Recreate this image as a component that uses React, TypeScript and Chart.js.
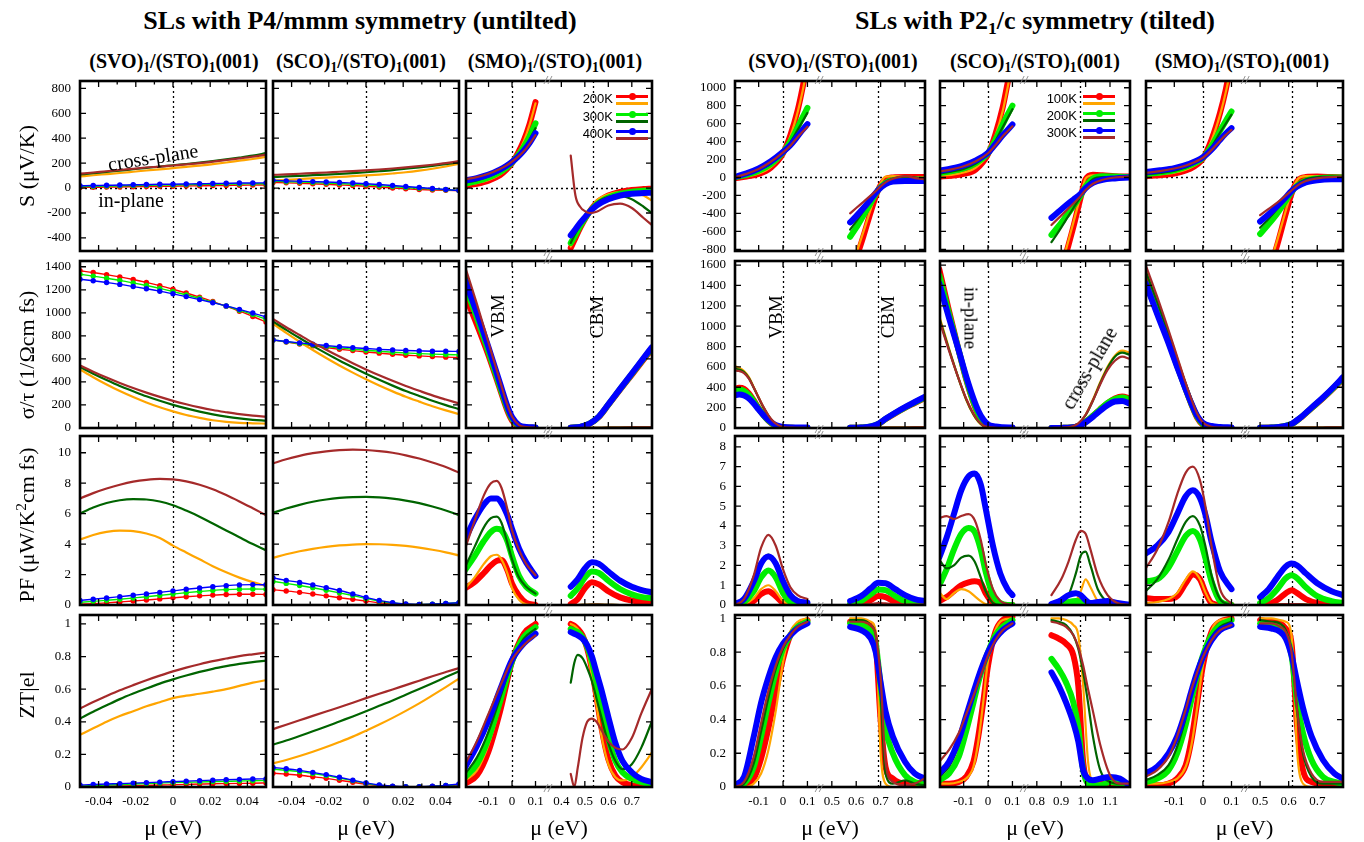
import React, { useEffect, useRef } from 'react';
import { Chart, registerables } from 'chart.js';

Chart.register(...registerables);
Chart.defaults.font.family = "'Liberation Serif', 'Times New Roman', serif";

// ---------------- data ----------------
// series order everywhere: [T1 in-plane, T1 cross-plane, T2 in-plane, T2 cross-plane, T3 in-plane, T3 cross-plane]
const SERIES_COLORS = ['#ff0000', '#ffa500', '#00ee00', '#006400', '#0000ff', '#a52a2a'];
const LEGEND_U = ['200K', '300K', '400K'];
const LEGEND_T = ['100K', '200K', '300K'];

const X_U = [-0.05, -0.0429, -0.0357, -0.0286, -0.0214, -0.0143, -0.0071, 0, 0.0071, 0.0143, 0.0214, 0.0286, 0.0357, 0.0429, 0.05];

// (SVO)1/(STO)1 untilted
const Y_SVO_U_S = [
  [5, 6, 8, 9, 11, 12, 14, 15, 17, 18, 20, 21, 23, 24, 25],
  [93, 103, 112, 121, 131, 141, 150, 160, 170, 180, 192, 205, 219, 233, 250],
  [12, 14, 16, 18, 20, 22, 24, 25, 27, 29, 30, 32, 33, 34, 35],
  [109, 119, 130, 140, 151, 162, 172, 183, 193, 204, 216, 230, 244, 260, 280],
  [18, 20, 22, 24, 26, 28, 30, 31, 33, 35, 36, 38, 40, 41, 42],
  [115, 125, 135, 145, 155, 165, 172, 181, 190, 200, 212, 225, 238, 252, 268],
];
const Y_SVO_U_C = [
  [1365, 1350, 1332, 1312, 1289, 1264, 1236, 1205, 1172, 1136, 1098, 1058, 1014, 968, 920],
  [509, 441, 378, 321, 269, 222, 180, 144, 113, 88, 67, 53, 45, 41, 38],
  [1335, 1319, 1301, 1282, 1260, 1237, 1212, 1185, 1156, 1126, 1093, 1059, 1023, 985, 945],
  [529, 471, 416, 365, 319, 275, 236, 201, 170, 142, 119, 99, 83, 71, 63],
  [1292, 1278, 1263, 1247, 1228, 1209, 1188, 1165, 1141, 1115, 1088, 1060, 1030, 998, 965],
  [543, 489, 438, 391, 347, 307, 270, 236, 206, 179, 156, 137, 120, 107, 98],
];
const Y_SVO_U_P = [
  [0.05, 0.09, 0.14, 0.2, 0.26, 0.33, 0.4, 0.47, 0.54, 0.6, 0.65, 0.69, 0.71, 0.71, 0.69],
  [4.3, 4.6, 4.8, 4.88, 4.85, 4.7, 4.4, 3.9, 3.45, 3.0, 2.55, 2.15, 1.8, 1.5, 1.25],
  [0.18, 0.24, 0.31, 0.38, 0.46, 0.54, 0.63, 0.72, 0.81, 0.89, 0.96, 1.01, 1.04, 1.05, 1.04],
  [6.0, 6.4, 6.7, 6.88, 6.95, 6.93, 6.8, 6.55, 6.2, 5.8, 5.35, 4.9, 4.45, 4.0, 3.6],
  [0.3, 0.38, 0.46, 0.55, 0.64, 0.73, 0.83, 0.93, 1.03, 1.12, 1.2, 1.27, 1.32, 1.34, 1.33],
  [7.0, 7.35, 7.65, 7.9, 8.1, 8.22, 8.28, 8.25, 8.12, 7.9, 7.6, 7.22, 6.8, 6.35, 5.9],
];
const Y_SVO_U_Z = [
  [0.0, 0.002, 0.004, 0.006, 0.008, 0.01, 0.012, 0.014, 0.016, 0.018, 0.02, 0.021, 0.022, 0.023, 0.025],
  [0.32, 0.36, 0.4, 0.435, 0.465, 0.495, 0.52, 0.545, 0.56, 0.572, 0.585, 0.6, 0.62, 0.64, 0.655],
  [0.006, 0.009, 0.012, 0.015, 0.018, 0.021, 0.024, 0.027, 0.029, 0.031, 0.033, 0.035, 0.037, 0.038, 0.04],
  [0.42, 0.462, 0.501, 0.539, 0.573, 0.604, 0.634, 0.66, 0.684, 0.706, 0.725, 0.741, 0.755, 0.766, 0.775],
  [0.012, 0.015, 0.018, 0.021, 0.024, 0.027, 0.03, 0.033, 0.036, 0.039, 0.042, 0.045, 0.047, 0.049, 0.05],
  [0.481, 0.521, 0.558, 0.593, 0.625, 0.655, 0.683, 0.709, 0.732, 0.753, 0.772, 0.788, 0.803, 0.814, 0.824],
];

// (SCO)1/(STO)1 untilted
const Y_SCO_U_S = [
  [45, 42, 38, 34, 30, 25, 20, 14, 8, 1, -5, -11, -15, -18, -20],
  [61, 66, 72, 78, 84, 90, 95, 101, 108, 117, 127, 140, 155, 173, 195],
  [55, 51, 48, 44, 40, 36, 31, 26, 19, 12, 5, -2, -8, -14, -19],
  [88, 93, 98, 103, 108, 113, 120, 127, 135, 144, 155, 166, 178, 192, 208],
  [62, 58, 55, 52, 49, 45, 40, 35, 28, 20, 12, 4, -4, -12, -20],
  [105, 110, 115, 120, 125, 131, 136, 142, 149, 157, 166, 176, 187, 200, 216],
];
const Y_SCO_U_C = [
  [765, 747, 729, 713, 698, 684, 672, 660, 650, 640, 632, 626, 620, 615, 612],
  [906, 826, 749, 677, 608, 543, 481, 423, 369, 318, 271, 229, 189, 153, 121],
  [765, 749, 734, 720, 708, 696, 685, 675, 666, 658, 652, 646, 641, 638, 635],
  [926, 852, 781, 713, 648, 586, 527, 471, 418, 368, 321, 278, 237, 199, 164],
  [765, 751, 739, 727, 716, 706, 698, 690, 683, 678, 673, 670, 667, 666, 665],
  [946, 875, 807, 741, 679, 620, 563, 509, 458, 410, 365, 323, 283, 247, 213],
];
const Y_SCO_U_P = [
  [1.0, 0.92, 0.83, 0.72, 0.6, 0.48, 0.37, 0.26, 0.15, 0.07, 0.03, 0.02, 0.03, 0.05, 0.08],
  [3.1, 3.33, 3.53, 3.69, 3.82, 3.91, 3.97, 4.0, 3.99, 3.95, 3.88, 3.77, 3.63, 3.46, 3.25],
  [1.55, 1.42, 1.28, 1.13, 0.97, 0.8, 0.62, 0.43, 0.26, 0.13, 0.06, 0.03, 0.05, 0.1, 0.15],
  [6.05, 6.34, 6.58, 6.78, 6.93, 7.03, 7.09, 7.1, 7.07, 6.99, 6.86, 6.69, 6.47, 6.21, 5.9],
  [1.78, 1.62, 1.48, 1.32, 1.14, 0.95, 0.73, 0.5, 0.3, 0.15, 0.07, 0.04, 0.05, 0.1, 0.15],
  [9.3, 9.57, 9.79, 9.97, 10.09, 10.17, 10.2, 10.18, 10.11, 10.0, 9.83, 9.62, 9.36, 9.06, 8.7],
];
const Y_SCO_U_Z = [
  [0.085, 0.079, 0.072, 0.063, 0.053, 0.041, 0.029, 0.017, 0.008, 0.003, 0.001, 0.001, 0.003, 0.007, 0.013],
  [0.145, 0.166, 0.19, 0.216, 0.245, 0.276, 0.309, 0.345, 0.383, 0.424, 0.467, 0.513, 0.562, 0.613, 0.665],
  [0.11, 0.103, 0.094, 0.083, 0.07, 0.055, 0.039, 0.023, 0.011, 0.004, 0.002, 0.002, 0.004, 0.009, 0.016],
  [0.26, 0.285, 0.313, 0.342, 0.371, 0.402, 0.433, 0.465, 0.498, 0.531, 0.566, 0.601, 0.637, 0.674, 0.71],
  [0.12, 0.112, 0.102, 0.09, 0.076, 0.06, 0.042, 0.025, 0.012, 0.005, 0.002, 0.002, 0.005, 0.01, 0.018],
  [0.355, 0.382, 0.409, 0.436, 0.463, 0.489, 0.517, 0.545, 0.572, 0.598, 0.625, 0.652, 0.679, 0.705, 0.73],
];

// (SMO)1/(STO)1 untilted (broken axis)
const X_SMO_U_S_L = [-0.2, -0.15, -0.1, -0.05, -0.025, 0, 0.025, 0.05, 0.075, 0.1];
const Y_SMO_U_S_L = [
  [20, 35, 60, 105, 145, 200, 280, 380, 515, 690],
  [25, 40, 65, 110, 148, 200, 278, 375, 510, 680],
  [35, 55, 85, 130, 162, 205, 260, 330, 415, 520],
  [45, 62, 92, 135, 165, 205, 255, 315, 390, 480],
  [60, 80, 108, 150, 177, 210, 250, 300, 362, 440],
  [70, 88, 115, 155, 180, 212, 250, 295, 355, 425],
];
const X_SMO_U_S_R = [0.44, 0.46, 0.48, 0.5, 0.52, 0.55, 0.6, 0.65, 0.7, 0.75, 0.785];
const Y_SMO_U_S_R = [
  [-480, -400, -320, -250, -190, -120, -60, -30, -15, -8, -5],
  [-470, -390, -310, -245, -180, -100, -50, -32, -35, -60, -100],
  [-440, -375, -305, -245, -192, -130, -75, -45, -30, -22, -20],
  [-440, -365, -300, -245, -190, -120, -70, -60, -90, -150, -200],
  [-380, -330, -280, -235, -192, -140, -90, -60, -45, -40, -38],
  [260, -60, -150, -185, -200, -190, -140, -125, -160, -240, -295],
];
const X_SMO_U_C_L = [-0.2, -0.15, -0.1, -0.05, -0.02, 0, 0.03, 0.06, 0.1];
const Y_SMO_U_C_L = [
  [1150, 900, 630, 330, 150, 65, 12, 3, 1],
  [1330, 1010, 680, 350, 160, 70, 12, 3, 1],
  [1230, 960, 660, 350, 170, 80, 18, 5, 2],
  [1360, 1040, 700, 370, 180, 85, 18, 5, 2],
  [1280, 1000, 700, 380, 190, 95, 25, 10, 5],
  [1400, 1080, 740, 400, 200, 100, 25, 8, 3],
];
const X_SMO_U_C_R = [0.44, 0.48, 0.52, 0.56, 0.6, 0.65, 0.7, 0.75, 0.785];
const Y_SMO_U_C_R = [
  [2, 9, 36, 97, 200, 332, 462, 593, 685],
  [0, 0, 1, 2, 3, 4, 5, 6, 7],
  [2, 10, 37, 99, 203, 337, 469, 601, 694],
  [0, 0, 1, 2, 3, 4, 5, 6, 7],
  [2, 10, 38, 100, 205, 340, 473, 607, 700],
  [0, 0, 1, 2, 3, 4, 5, 6, 7],
];
const X_SMO_U_P_L = [-0.2, -0.16, -0.12, -0.09, -0.065, -0.045, -0.02, 0, 0.03, 0.06, 0.1];
const Y_SMO_U_P_L = [
  [1.1, 1.5, 2.1, 2.6, 2.9, 2.95, 2.3, 1.4, 0.6, 0.15, 0.0],
  [1.1, 1.8, 2.7, 3.2, 3.3, 3.0, 2.1, 1.1, 0.35, 0.05, 0.0],
  [2.3, 3.2, 4.2, 4.8, 5.0, 4.9, 4.2, 3.2, 1.9, 1.2, 0.75],
  [2.5, 3.8, 5.1, 5.7, 5.8, 5.4, 4.1, 3.0, 1.8, 1.2, 0.75],
  [4.3, 5.6, 6.6, 7.0, 7.0, 6.7, 5.9, 5.0, 3.7, 2.8, 1.9],
  [3.7, 5.5, 7.2, 8.0, 8.15, 7.7, 6.3, 4.9, 3.6, 2.7, 1.95],
];
const X_SMO_U_P_R = [0.44, 0.47, 0.5, 0.53, 0.56, 0.6, 0.65, 0.7, 0.75, 0.785];
const Y_SMO_U_P_R = [
  [0.05, 0.4, 1.1, 1.5, 1.35, 0.9, 0.5, 0.3, 0.22, 0.2],
  [0, 0, 0.01, 0.02, 0.02, 0.01, 0, 0, 0, 0],
  [0.6, 1.1, 1.8, 2.2, 2.1, 1.6, 1.05, 0.7, 0.5, 0.45],
  [0, 0, 0.01, 0.02, 0.02, 0.01, 0, 0, 0, 0],
  [1.2, 1.7, 2.4, 2.8, 2.7, 2.2, 1.6, 1.2, 0.95, 0.83],
  [0, 0, 0.01, 0.02, 0.02, 0.01, 0, 0, 0, 0],
];
const X_SMO_U_Z_L = [-0.2, -0.15, -0.1, -0.05, 0, 0.05, 0.1];
const Y_SMO_U_Z_L = [
  [0.02, 0.07, 0.22, 0.47, 0.77, 0.94, 1.0],
  [0.04, 0.1, 0.26, 0.5, 0.77, 0.93, 0.99],
  [0.06, 0.14, 0.3, 0.53, 0.77, 0.92, 0.98],
  [0.08, 0.18, 0.34, 0.55, 0.77, 0.91, 0.97],
  [0.12, 0.25, 0.41, 0.6, 0.78, 0.88, 0.94],
  [0.14, 0.28, 0.45, 0.62, 0.78, 0.87, 0.93],
];
const X_SMO_U_Z_R = [0.44, 0.455, 0.47, 0.49, 0.51, 0.53, 0.55, 0.57, 0.6, 0.63, 0.66, 0.7, 0.74, 0.785];
const Y_SMO_U_Z_R = [
  [1.0, 0.99, 0.97, 0.93, 0.85, 0.72, 0.55, 0.37, 0.17, 0.07, 0.03, 0.01, 0.005, 0.0],
  [1.0, 0.99, 0.97, 0.92, 0.83, 0.68, 0.5, 0.32, 0.14, 0.06, 0.04, 0.06, 0.12, 0.21],
  [0.97, 0.96, 0.95, 0.92, 0.86, 0.77, 0.64, 0.5, 0.3, 0.16, 0.09, 0.05, 0.03, 0.02],
  [0.64, 0.76, 0.81, 0.79, 0.73, 0.65, 0.54, 0.43, 0.27, 0.16, 0.11, 0.14, 0.24, 0.4],
  [0.95, 0.94, 0.93, 0.91, 0.87, 0.8, 0.7, 0.6, 0.43, 0.27, 0.16, 0.09, 0.05, 0.03],
  [0.08, 0.0, 0.12, 0.3, 0.4, 0.42, 0.4, 0.35, 0.28, 0.24, 0.23, 0.3, 0.45, 0.6],
];

// (SVO)1/(STO)1 tilted
const X_SVO_T_S_L = [-0.2, -0.15, -0.1, -0.05, 0, 0.03, 0.06, 0.08, 0.1];
const Y_SVO_T_S_L = [
  [-10, 10, 40, 110, 270, 470, 750, 1000, 1300],
  [-5, 12, 45, 115, 270, 460, 730, 960, 1250],
  [0, 30, 75, 150, 280, 400, 560, 670, 775],
  [0, 32, 80, 155, 280, 390, 530, 625, 720],
  [5, 45, 100, 180, 285, 360, 460, 530, 595],
  [0, 40, 95, 175, 280, 355, 450, 510, 565],
];
const X_SVO_T_S_R = [0.575, 0.6, 0.63, 0.66, 0.69, 0.72, 0.75, 0.8, 0.85, 0.88];
const Y_SVO_T_S_R = [
  [-1100, -900, -650, -380, -140, -20, 0, 5, 5, 5],
  [-1050, -850, -600, -350, -120, 10, 15, 10, 5, 5],
  [-660, -560, -420, -280, -140, -60, -30, -20, -25, -25],
  [-580, -490, -370, -250, -135, -50, -15, 10, 0, -10],
  [-500, -430, -340, -240, -140, -75, -45, -38, -40, -40],
  [-400, -340, -270, -200, -125, -55, -15, 15, -10, -20],
];
const X_SVO_T_C_L = [-0.2, -0.18, -0.16, -0.14, -0.12, -0.1, -0.08, -0.06, -0.04, -0.02, 0, 0.05, 0.1];
const Y_SVO_T_C_L = [
  [380, 395, 385, 340, 270, 195, 125, 70, 32, 12, 4, 1, 0],
  [610, 590, 560, 500, 400, 300, 200, 120, 60, 25, 8, 1, 0],
  [365, 375, 365, 325, 260, 190, 125, 72, 35, 14, 5, 1, 0],
  [585, 575, 550, 490, 395, 295, 200, 120, 60, 25, 8, 1, 0],
  [320, 330, 320, 290, 240, 180, 125, 78, 42, 20, 10, 5, 4],
  [565, 560, 540, 485, 395, 300, 205, 125, 65, 28, 10, 2, 0],
];
const X_SVO_T_C_R = [0.575, 0.62, 0.66, 0.69, 0.72, 0.76, 0.8, 0.84, 0.88];
const Y_SVO_T_C_R = [
  [2, 5, 14, 38, 86, 144, 197, 245, 293],
  [0, 0, 1, 2, 3, 4, 5, 6, 7],
  [2, 5, 15, 39, 88, 147, 201, 250, 299],
  [0, 0, 1, 2, 3, 4, 5, 6, 7],
  [2, 5, 15, 40, 90, 150, 205, 255, 305],
  [0, 0, 1, 2, 3, 4, 5, 6, 7],
];
const X_SVO_T_P_L = [-0.2, -0.16, -0.12, -0.09, -0.06, -0.03, 0, 0.03, 0.06, 0.1];
const Y_SVO_T_P_L = [
  [0, 0.02, 0.2, 0.55, 0.7, 0.45, 0.1, 0.01, 0, 0],
  [0, 0.05, 0.35, 0.8, 1.0, 0.7, 0.2, 0.03, 0, 0],
  [0, 0.15, 0.7, 1.4, 1.75, 1.4, 0.6, 0.15, 0.05, 0.02],
  [0, 0.2, 1.1, 2.1, 2.55, 2.1, 1.1, 0.4, 0.15, 0.05],
  [0.05, 0.3, 1.2, 2.1, 2.45, 2.1, 1.2, 0.5, 0.2, 0.12],
  [0, 0.3, 1.5, 2.9, 3.55, 3.0, 1.8, 0.9, 0.5, 0.3],
];
const X_SVO_T_P_R = [0.575, 0.62, 0.66, 0.69, 0.72, 0.76, 0.8, 0.84, 0.88];
const Y_SVO_T_P_R = [
  [0, 0.05, 0.25, 0.45, 0.4, 0.15, 0.05, 0.02, 0],
  [0, 0, 0.02, 0.04, 0.03, 0.01, 0, 0, 0],
  [0.05, 0.2, 0.55, 0.78, 0.75, 0.45, 0.2, 0.1, 0.05],
  [0, 0, 0.03, 0.06, 0.05, 0.02, 0, 0, 0],
  [0.2, 0.45, 0.85, 1.12, 1.1, 0.8, 0.5, 0.3, 0.2],
  [0, 0.01, 0.05, 0.1, 0.08, 0.04, 0.02, 0.02, 0.02],
];
const X_SVO_T_Z_L = [-0.2, -0.16, -0.12, -0.09, -0.06, -0.03, 0, 0.03, 0.06, 0.1];
const Y_SVO_T_Z_L = [
  [0.0, 0.0, 0.05, 0.17, 0.35, 0.56, 0.76, 0.9, 0.96, 0.99],
  [0.0, 0.0, 0.02, 0.08, 0.22, 0.45, 0.74, 0.92, 0.98, 1.0],
  [0.0, 0.02, 0.12, 0.3, 0.5, 0.68, 0.82, 0.9, 0.95, 0.98],
  [0.0, 0.02, 0.14, 0.33, 0.53, 0.7, 0.82, 0.9, 0.95, 0.98],
  [0.01, 0.06, 0.3, 0.5, 0.65, 0.77, 0.85, 0.9, 0.94, 0.97],
  [0.0, 0.03, 0.18, 0.38, 0.57, 0.72, 0.83, 0.9, 0.95, 0.98],
];
const X_SVO_T_Z_R = [0.575, 0.62, 0.66, 0.68, 0.7, 0.72, 0.75, 0.8, 0.84, 0.88];
const Y_SVO_T_Z_R = [
  [0.98, 0.98, 0.95, 0.85, 0.4, 0.12, 0.05, 0.02, 0.02, 0.02],
  [1.0, 1.0, 0.98, 0.92, 0.2, 0.02, 0, 0, 0, 0],
  [0.97, 0.96, 0.92, 0.85, 0.6, 0.35, 0.2, 0.07, 0.03, 0.02],
  [0.99, 0.99, 0.96, 0.9, 0.55, 0.08, 0.02, 0.04, 0.02, 0.01],
  [0.95, 0.93, 0.88, 0.8, 0.62, 0.45, 0.3, 0.15, 0.08, 0.05],
  [0.98, 0.98, 0.96, 0.9, 0.65, 0.15, 0.03, 0.01, 0.02, 0.05],
];

// (SCO)1/(STO)1 tilted
const X_SCO_T_S_L = [-0.2, -0.15, -0.1, -0.05, 0, 0.03, 0.06, 0.08, 0.1];
const Y_SCO_T_S_L = [
  [10, 20, 40, 90, 260, 480, 780, 1050, 1350],
  [20, 30, 55, 110, 260, 460, 740, 1000, 1300],
  [50, 70, 100, 160, 270, 420, 590, 700, 800],
  [45, 65, 95, 155, 270, 405, 560, 660, 760],
  [75, 100, 135, 190, 275, 370, 470, 530, 590],
  [65, 90, 125, 180, 270, 360, 460, 515, 570],
];
const X_SCO_T_S_R = [0.86, 0.89, 0.92, 0.95, 0.98, 1.0, 1.03, 1.07, 1.12, 1.18];
const Y_SCO_T_S_R = [
  [-1400, -1150, -850, -550, -220, -20, 30, 25, 15, 10],
  [-1350, -1100, -800, -500, -200, -10, 25, 20, 10, 5],
  [-640, -540, -430, -320, -200, -100, -10, 15, 10, 5],
  [-720, -600, -470, -340, -210, -110, -20, 5, 5, 0],
  [-450, -380, -310, -245, -180, -120, -60, -25, -10, 0],
  [-530, -450, -370, -290, -205, -140, -70, -25, 0, 10],
];
const X_SCO_T_C_L = [-0.2, -0.16, -0.12, -0.09, -0.06, -0.04, -0.02, 0, 0.03, 0.06, 0.1];
const Y_SCO_T_C_L = [
  [1560, 1150, 760, 480, 250, 130, 55, 15, 3, 0, 0],
  [1100, 780, 480, 280, 130, 60, 20, 5, 1, 0, 0],
  [1500, 1120, 760, 490, 260, 140, 60, 20, 5, 1, 0],
  [1080, 770, 480, 285, 135, 65, 22, 6, 1, 0, 0],
  [1420, 1080, 760, 510, 290, 170, 85, 35, 15, 8, 5],
  [1060, 760, 480, 290, 140, 70, 25, 8, 2, 0, 0],
];
const X_SCO_T_C_R = [0.86, 0.9, 0.94, 0.97, 1.0, 1.03, 1.06, 1.09, 1.12, 1.15, 1.18];
const Y_SCO_T_C_R = [
  [0, 1, 5, 20, 60, 120, 185, 245, 290, 310, 290],
  [0, 2, 10, 40, 130, 280, 450, 600, 710, 760, 740],
  [0, 1, 5, 20, 60, 120, 185, 245, 285, 300, 280],
  [0, 2, 10, 40, 125, 270, 440, 590, 700, 740, 720],
  [0, 1, 5, 20, 55, 110, 170, 225, 260, 265, 240],
  [0, 2, 12, 45, 130, 270, 430, 570, 660, 700, 680],
];
const X_SCO_T_P_L = [-0.2, -0.17, -0.14, -0.11, -0.08, -0.055, -0.03, -0.01, 0.02, 0.05, 0.08, 0.1];
const Y_SCO_T_P_L = [
  [0.2, 0.4, 0.7, 1.0, 1.15, 1.2, 1.1, 0.6, 0.1, 0.0, 0.0, 0.0],
  [0.65, 0.3, 0.6, 0.8, 0.7, 0.45, 0.2, 0.05, 0.0, 0.0, 0.0, 0.0],
  [1.0, 1.8, 2.8, 3.6, 3.9, 3.7, 2.8, 1.7, 0.5, 0.1, 0.0, 0.0],
  [2.3, 1.85, 2.0, 2.4, 2.5, 2.2, 1.4, 0.7, 0.1, 0.0, 0.0, 0.0],
  [2.4, 3.4, 4.6, 5.8, 6.5, 6.65, 6.1, 4.9, 3.0, 1.6, 0.8, 0.5],
  [4.4, 4.5, 4.35, 4.5, 4.6, 4.3, 3.3, 2.1, 0.8, 0.2, 0.05, 0.0],
];
const X_SCO_T_P_R = [0.86, 0.9, 0.93, 0.96, 0.98, 1.0, 1.02, 1.05, 1.09, 1.13, 1.18];
const Y_SCO_T_P_R = [
  [0.0, 0.0, 0.05, 0.15, 0.2, 0.05, 0.0, 0.0, 0.0, 0.0, 0.0],
  [0.0, 0.0, 0.05, 0.2, 0.7, 1.3, 0.9, 0.2, 0.02, 0.0, 0.0],
  [0.0, 0.05, 0.15, 0.2, 0.15, 0.05, 0.02, 0.05, 0.08, 0.05, 0.0],
  [0.0, 0.1, 0.5, 1.6, 2.5, 2.7, 2.0, 0.8, 0.15, 0.02, 0.0],
  [0.05, 0.25, 0.5, 0.6, 0.5, 0.25, 0.1, 0.15, 0.2, 0.1, 0.02],
  [0.5, 1.3, 2.2, 3.3, 3.75, 3.6, 2.8, 1.5, 0.5, 0.1, 0.0],
];
const X_SCO_T_Z_L = [-0.2, -0.16, -0.12, -0.09, -0.06, -0.04, -0.02, 0, 0.03, 0.06, 0.1];
const Y_SCO_T_Z_L = [
  [0.02, 0.02, 0.03, 0.06, 0.15, 0.3, 0.5, 0.72, 0.92, 0.99, 1.01],
  [0.02, 0.02, 0.03, 0.05, 0.12, 0.27, 0.5, 0.75, 0.93, 0.99, 1.0],
  [0.04, 0.08, 0.18, 0.33, 0.5, 0.62, 0.72, 0.8, 0.9, 0.95, 0.99],
  [0.06, 0.12, 0.25, 0.4, 0.55, 0.65, 0.73, 0.8, 0.89, 0.94, 0.98],
  [0.08, 0.15, 0.28, 0.42, 0.56, 0.65, 0.73, 0.8, 0.88, 0.93, 0.97],
  [0.15, 0.22, 0.32, 0.43, 0.54, 0.62, 0.7, 0.78, 0.87, 0.93, 0.97],
];
const X_SCO_T_Z_R = [0.86, 0.89, 0.92, 0.95, 0.97, 0.99, 1.01, 1.03, 1.06, 1.1, 1.14, 1.18];
const Y_SCO_T_Z_R = [
  [0.9, 0.88, 0.85, 0.78, 0.6, 0.15, 0.03, 0.02, 0.02, 0.02, 0.02, 0.02],
  [1.0, 1.0, 0.99, 0.96, 0.9, 0.6, 0.15, 0.03, 0.02, 0.02, 0.02, 0.02],
  [0.76, 0.7, 0.62, 0.5, 0.35, 0.1, 0.02, 0.01, 0.01, 0.03, 0.02, 0.0],
  [0.99, 0.98, 0.96, 0.9, 0.82, 0.68, 0.5, 0.3, 0.1, 0.03, 0.02, 0.02],
  [0.68, 0.6, 0.5, 0.38, 0.27, 0.1, 0.05, 0.04, 0.05, 0.06, 0.05, 0.01],
  [0.98, 0.97, 0.95, 0.9, 0.83, 0.72, 0.58, 0.45, 0.25, 0.07, 0.02, 0.02],
];

// (SMO)1/(STO)1 tilted
const X_SMO_T_S_L = [-0.2, -0.15, -0.1, -0.05, 0, 0.03, 0.06, 0.08, 0.1];
const Y_SMO_T_S_L = [
  [15, 25, 45, 90, 210, 420, 720, 980, 1300],
  [25, 35, 55, 100, 210, 410, 700, 950, 1250],
  [40, 55, 80, 130, 220, 350, 520, 630, 735],
  [35, 50, 75, 125, 220, 340, 500, 600, 700],
  [60, 80, 105, 150, 225, 310, 420, 490, 550],
  [50, 70, 100, 145, 220, 305, 410, 475, 530],
];
const X_SMO_T_S_R = [0.5, 0.53, 0.56, 0.59, 0.61, 0.63, 0.66, 0.7, 0.75, 0.79];
const Y_SMO_T_S_R = [
  [-1300, -1050, -750, -400, -180, -40, 5, 10, 5, 0],
  [-1250, -1000, -700, -370, -160, -25, 15, 15, 10, 5],
  [-630, -520, -400, -260, -160, -90, -35, -10, 0, 0],
  [-560, -460, -350, -230, -150, -75, -20, 5, 10, 5],
  [-490, -410, -320, -220, -150, -100, -55, -30, -20, -20],
  [-420, -350, -280, -200, -145, -90, -40, -10, 5, 10],
];
const X_SMO_T_C_L = [-0.2, -0.16, -0.12, -0.09, -0.06, -0.04, -0.02, 0, 0.03, 0.06, 0.1];
const Y_SMO_T_C_L = [
  [1500, 1190, 870, 620, 380, 230, 100, 30, 5, 1, 0],
  [1560, 1260, 940, 690, 430, 270, 130, 50, 10, 2, 0],
  [1420, 1140, 850, 610, 380, 235, 110, 38, 8, 2, 0],
  [1540, 1240, 920, 670, 420, 260, 125, 48, 10, 2, 0],
  [1420, 1120, 830, 600, 380, 240, 120, 50, 20, 10, 6],
  [1600, 1290, 960, 700, 440, 280, 140, 55, 12, 3, 1],
];
const X_SMO_T_C_R = [0.5, 0.54, 0.58, 0.61, 0.64, 0.68, 0.72, 0.76, 0.79];
const Y_SMO_T_C_R = [
  [2, 5, 14, 38, 96, 194, 291, 398, 485],
  [0, 0, 1, 2, 3, 4, 5, 6, 7],
  [2, 5, 15, 39, 98, 197, 296, 404, 493],
  [0, 0, 1, 2, 3, 4, 5, 6, 7],
  [2, 5, 15, 40, 100, 200, 300, 410, 500],
  [0, 0, 1, 2, 3, 4, 5, 6, 7],
];
const X_SMO_T_P_L = [-0.2, -0.16, -0.12, -0.09, -0.06, -0.035, -0.01, 0.01, 0.03, 0.06, 0.1];
const Y_SMO_T_P_L = [
  [0.35, 0.3, 0.3, 0.45, 1.1, 1.55, 1.3, 0.6, 0.1, 0.0, 0.0],
  [0.1, 0.15, 0.3, 0.6, 1.3, 1.7, 1.3, 0.6, 0.1, 0.0, 0.0],
  [1.2, 1.3, 1.9, 2.7, 3.5, 3.75, 3.3, 2.3, 1.2, 0.2, 0.0],
  [0.7, 1.3, 2.3, 3.3, 4.2, 4.5, 4.0, 2.9, 1.5, 0.3, 0.0],
  [2.6, 3.0, 3.7, 4.6, 5.5, 5.8, 5.4, 4.5, 3.2, 1.7, 0.8],
  [1.85, 2.8, 4.2, 5.6, 6.7, 7.0, 6.3, 4.9, 3.0, 0.8, 0.05],
];
const X_SMO_T_P_R = [0.5, 0.53, 0.56, 0.59, 0.61, 0.63, 0.66, 0.7, 0.75, 0.79];
const Y_SMO_T_P_R = [
  [0.0, 0.05, 0.25, 0.6, 0.75, 0.6, 0.3, 0.1, 0.03, 0.0],
  [0, 0, 0.02, 0.04, 0.05, 0.04, 0.02, 0, 0, 0],
  [0.1, 0.35, 0.8, 1.35, 1.5, 1.35, 0.9, 0.45, 0.2, 0.1],
  [0, 0, 0.02, 0.04, 0.05, 0.04, 0.02, 0, 0, 0],
  [0.4, 0.8, 1.4, 1.95, 2.1, 2.0, 1.6, 1.1, 0.7, 0.5],
  [0, 0, 0.02, 0.04, 0.05, 0.04, 0.02, 0, 0, 0],
];
const X_SMO_T_Z_L = [-0.2, -0.16, -0.12, -0.09, -0.06, -0.04, -0.02, 0, 0.03, 0.06, 0.1];
const Y_SMO_T_Z_L = [
  [0.01, 0.01, 0.02, 0.05, 0.13, 0.28, 0.5, 0.72, 0.92, 0.98, 1.0],
  [0.02, 0.02, 0.03, 0.05, 0.12, 0.25, 0.47, 0.72, 0.93, 0.99, 1.0],
  [0.03, 0.05, 0.1, 0.2, 0.37, 0.52, 0.66, 0.78, 0.9, 0.96, 0.99],
  [0.04, 0.07, 0.13, 0.24, 0.41, 0.55, 0.67, 0.78, 0.89, 0.95, 0.98],
  [0.08, 0.12, 0.2, 0.3, 0.45, 0.57, 0.68, 0.77, 0.87, 0.93, 0.96],
  [0.06, 0.1, 0.18, 0.3, 0.46, 0.58, 0.68, 0.77, 0.87, 0.93, 0.96],
];
const X_SMO_T_Z_R = [0.5, 0.54, 0.57, 0.59, 0.61, 0.63, 0.65, 0.68, 0.72, 0.76, 0.79];
const Y_SMO_T_Z_R = [
  [0.99, 0.98, 0.97, 0.94, 0.85, 0.35, 0.1, 0.03, 0.02, 0.02, 0.02],
  [1.0, 1.0, 0.99, 0.98, 0.9, 0.2, 0.02, 0.0, 0.0, 0.0, 0.0],
  [0.97, 0.96, 0.94, 0.9, 0.78, 0.5, 0.32, 0.16, 0.06, 0.03, 0.02],
  [0.99, 0.98, 0.97, 0.93, 0.8, 0.45, 0.2, 0.06, 0.02, 0.02, 0.02],
  [0.95, 0.94, 0.92, 0.88, 0.78, 0.62, 0.47, 0.3, 0.16, 0.08, 0.05],
  [0.97, 0.97, 0.95, 0.92, 0.8, 0.45, 0.22, 0.08, 0.03, 0.03, 0.03],
];

// ---------------- axes ----------------
const X_LABELS = [
  ['-0.04', '-0.02', '0', '0.02', '0.04'],
  ['-0.04', '-0.02', '0', '0.02', '0.04'],
  ['-0.1', '0', '0.1', '0.4', '0.5', '0.6', '0.7'],
  ['-0.1', '0', '0.1', '0.5', '0.6', '0.7', '0.8'],
  ['-0.1', '0', '0.1', '0.8', '0.9', '1.0', '1.1'],
  ['-0.1', '0', '0.1', '0.5', '0.6', '0.7'],
];
const X_MINOR = [[-0.03, -0.01, 0.01, 0.03], [-0.03, -0.01, 0.01, 0.03], [], [], [], []];
const X_MIN = [-0.05, -0.05, -0.196, -0.197, -0.197, -0.199];
const X_MAX = [0.05, 0.05, 0.596, 0.582, 0.582, 0.49];
const X_OFFSET = [0, 0, 0.19, 0.3, 0.6, 0.3];
const X_BREAK = [null, null, 0.153, 0.148, 0.148, 0.148];
const CBM = [null, null, 0.534, 0.69, 0.975, 0.61];

const Y_LABELS_U = [
  ['-400', '-200', '0', '200', '400', '600', '800'],
  ['0', '200', '400', '600', '800', '1000', '1200', '1400'],
  ['0', '2', '4', '6', '8', '10'],
  ['0', '0.2', '0.4', '0.6', '0.8', '1'],
];
const Y_LABELS_T = [
  ['-800', '-600', '-400', '-200', '0', '200', '400', '600', '800', '1000'],
  ['0', '200', '400', '600', '800', '1000', '1200', '1400', '1600'],
  ['0', '1', '2', '3', '4', '5', '6', '7', '8'],
  ['0', '0.2', '0.4', '0.6', '0.8', '1'],
];
const Y_MIN_U = [-505, 0, 0, 0];
const Y_MAX_U = [859, 1450, 11.1, 1.055];
const Y_MIN_T = [-819, 0, 0, 0];
const Y_MAX_T = [1075, 1640, 8.55, 1.02];

// ---------------- layout ----------------
const COL_L = [80, 273, 466, 735, 940, 1146];
const COL_R = [266, 459, 652, 925, 1130, 1343];
const ROW_T = [81, 261, 436, 615];
const ROW_B = [251, 428, 605, 787];
const PAD_L = 60, PAD_R = 6, PAD_T = 6, PAD_B = 30;

const seg1 = (x, y) => [{ x, y }];
const seg2 = (xl, yl, xr, yr) => [{ x: xl, y: yl }, { x: xr, y: yr }];

const PANELS = [
  { col: 0, row: 0, segs: seg1(X_U, Y_SVO_U_S) },
  { col: 0, row: 1, segs: seg1(X_U, Y_SVO_U_C) },
  { col: 0, row: 2, segs: seg1(X_U, Y_SVO_U_P) },
  { col: 0, row: 3, segs: seg1(X_U, Y_SVO_U_Z) },
  { col: 1, row: 0, segs: seg1(X_U, Y_SCO_U_S) },
  { col: 1, row: 1, segs: seg1(X_U, Y_SCO_U_C) },
  { col: 1, row: 2, segs: seg1(X_U, Y_SCO_U_P) },
  { col: 1, row: 3, segs: seg1(X_U, Y_SCO_U_Z) },
  { col: 2, row: 0, segs: seg2(X_SMO_U_S_L, Y_SMO_U_S_L, X_SMO_U_S_R, Y_SMO_U_S_R) },
  { col: 2, row: 1, segs: seg2(X_SMO_U_C_L, Y_SMO_U_C_L, X_SMO_U_C_R, Y_SMO_U_C_R) },
  { col: 2, row: 2, segs: seg2(X_SMO_U_P_L, Y_SMO_U_P_L, X_SMO_U_P_R, Y_SMO_U_P_R) },
  { col: 2, row: 3, segs: seg2(X_SMO_U_Z_L, Y_SMO_U_Z_L, X_SMO_U_Z_R, Y_SMO_U_Z_R) },
  { col: 3, row: 0, segs: seg2(X_SVO_T_S_L, Y_SVO_T_S_L, X_SVO_T_S_R, Y_SVO_T_S_R) },
  { col: 3, row: 1, segs: seg2(X_SVO_T_C_L, Y_SVO_T_C_L, X_SVO_T_C_R, Y_SVO_T_C_R) },
  { col: 3, row: 2, segs: seg2(X_SVO_T_P_L, Y_SVO_T_P_L, X_SVO_T_P_R, Y_SVO_T_P_R) },
  { col: 3, row: 3, segs: seg2(X_SVO_T_Z_L, Y_SVO_T_Z_L, X_SVO_T_Z_R, Y_SVO_T_Z_R) },
  { col: 4, row: 0, segs: seg2(X_SCO_T_S_L, Y_SCO_T_S_L, X_SCO_T_S_R, Y_SCO_T_S_R) },
  { col: 4, row: 1, segs: seg2(X_SCO_T_C_L, Y_SCO_T_C_L, X_SCO_T_C_R, Y_SCO_T_C_R) },
  { col: 4, row: 2, segs: seg2(X_SCO_T_P_L, Y_SCO_T_P_L, X_SCO_T_P_R, Y_SCO_T_P_R) },
  { col: 4, row: 3, segs: seg2(X_SCO_T_Z_L, Y_SCO_T_Z_L, X_SCO_T_Z_R, Y_SCO_T_Z_R) },
  { col: 5, row: 0, segs: seg2(X_SMO_T_S_L, Y_SMO_T_S_L, X_SMO_T_S_R, Y_SMO_T_S_R) },
  { col: 5, row: 1, segs: seg2(X_SMO_T_C_L, Y_SMO_T_C_L, X_SMO_T_C_R, Y_SMO_T_C_R) },
  { col: 5, row: 2, segs: seg2(X_SMO_T_P_L, Y_SMO_T_P_L, X_SMO_T_P_R, Y_SMO_T_P_R) },
  { col: 5, row: 3, segs: seg2(X_SMO_T_Z_L, Y_SMO_T_Z_L, X_SMO_T_Z_R, Y_SMO_T_Z_R) },
];

const TICK_FONT = { family: "'Liberation Serif', 'Times New Roman', serif", size: 13 };

function toVirtual(col, r) {
  const b = X_BREAK[col];
  return b !== null && r > b ? r - X_OFFSET[col] : r;
}

function makeFramePlugin(col, row, xTicks, yTicks) {
  return {
    id: 'frame' + col + '_' + row,
    beforeDatasetsDraw(chart) {
      const { ctx, chartArea: a } = chart;
      const xs = chart.scales.x, ys = chart.scales.y;
      ctx.save();
      ctx.strokeStyle = '#000';
      ctx.lineWidth = 1.3;
      ctx.setLineDash([2, 3]);
      const vl = [0];
      if (CBM[col] !== null) vl.push(toVirtual(col, CBM[col]));
      vl.forEach((v) => {
        const px = Math.round(xs.getPixelForValue(v)) + 0.5;
        ctx.beginPath(); ctx.moveTo(px, a.top); ctx.lineTo(px, a.bottom); ctx.stroke();
      });
      if (row === 0) {
        const py = Math.round(ys.getPixelForValue(0)) + 0.5;
        ctx.beginPath(); ctx.moveTo(a.left, py); ctx.lineTo(a.right, py); ctx.stroke();
      }
      ctx.restore();
    },
    afterDatasetsDraw(chart) {
      const { ctx, chartArea: a } = chart;
      const xs = chart.scales.x, ys = chart.scales.y;
      ctx.save();
      ctx.strokeStyle = '#000';
      ctx.lineWidth = 1.3;
      xTicks.forEach((t) => {
        const px = xs.getPixelForValue(t.v);
        const len = t.minor ? 3.5 : 6;
        ctx.beginPath();
        ctx.moveTo(px, a.bottom); ctx.lineTo(px, a.bottom - len);
        ctx.moveTo(px, a.top); ctx.lineTo(px, a.top + len);
        ctx.stroke();
      });
      yTicks.forEach((v) => {
        const py = ys.getPixelForValue(v);
        ctx.beginPath();
        ctx.moveTo(a.left, py); ctx.lineTo(a.left + 6, py);
        ctx.moveTo(a.right, py); ctx.lineTo(a.right - 6, py);
        ctx.stroke();
      });
      ctx.lineWidth = 2.6;
      ctx.strokeRect(a.left, a.top, a.right - a.left, a.bottom - a.top);
      if (X_BREAK[col] !== null) {
        const px = xs.getPixelForValue(X_BREAK[col]);
        ctx.strokeStyle = '#888';
        ctx.lineWidth = 0.9;
        [a.top - 1, a.bottom + 1].forEach((yy) => {
          [-2, 2].forEach((dx) => {
            ctx.beginPath();
            ctx.moveTo(px + dx - 2, yy + 4);
            ctx.lineTo(px + dx + 2, yy - 4);
            ctx.stroke();
          });
        });
      }
      ctx.restore();
    },
  };
}

function buildConfig(p) {
  const { col, row, segs } = p;
  const tilted = col >= 3;
  const broken = col >= 2;
  const yLabels = (tilted ? Y_LABELS_T : Y_LABELS_U)[row];
  const yVals = yLabels.map((s) => parseFloat(s));
  const xT = [
    ...X_LABELS[col].map((s) => ({ v: toVirtual(col, parseFloat(s)), label: s, minor: false })),
    ...X_MINOR[col].map((v) => ({ v, label: '', minor: true })),
  ].sort((a, b) => a.v - b.v);

  const datasets = SERIES_COLORS.map((color, s) => {
    const data = [];
    segs.forEach((seg, k) => {
      if (k > 0) {
        const prev = segs[k - 1].x;
        data.push({ x: (toVirtual(col, prev[prev.length - 1]) + toVirtual(col, seg.x[0])) / 2, y: null });
      }
      seg.x.forEach((xv, i) => data.push({ x: toVirtual(col, xv), y: seg.y[s][i] }));
    });
    const inPlane = s % 2 === 0;
    return {
      data,
      borderColor: color,
      backgroundColor: color,
      borderWidth: inPlane ? (broken ? 6 : 1.4) : 2.2,
      pointRadius: inPlane && !broken ? 2.7 : 0,
      pointBackgroundColor: color,
      pointBorderColor: color,
      pointBorderWidth: 0,
      cubicInterpolationMode: 'monotone',
      spanGaps: false,
      fill: false,
      borderCapStyle: 'round',
      order: 5 - s,
    };
  });

  return {
    type: 'line',
    data: { datasets },
    options: {
      animation: false,
      responsive: false,
      devicePixelRatio: 1,
      layout: { padding: { top: PAD_T, right: PAD_R, left: 0, bottom: 0 } },
      plugins: { legend: { display: false }, tooltip: { enabled: false }, title: { display: false } },
      events: [],
      scales: {
        x: {
          type: 'linear',
          min: X_MIN[col],
          max: X_MAX[col],
          grid: { display: false, drawTicks: false },
          border: { display: false },
          ticks: {
            display: row === 3,
            autoSkip: false,
            maxRotation: 0,
            minRotation: 0,
            padding: 7,
            color: '#000',
            font: TICK_FONT,
            callback: (_v, i) => (xT[i] ? xT[i].label : ''),
          },
          afterBuildTicks: (sc) => { sc.ticks = xT.map((t) => ({ value: t.v })); },
          afterFit: (sc) => { sc.height = PAD_B; sc.paddingLeft = 0; sc.paddingRight = 0; },
        },
        y: {
          type: 'linear',
          min: (tilted ? Y_MIN_T : Y_MIN_U)[row],
          max: (tilted ? Y_MAX_T : Y_MAX_U)[row],
          grid: { display: false, drawTicks: false },
          border: { display: false },
          ticks: {
            display: col === 0 || col === 3,
            autoSkip: false,
            padding: 9,
            color: '#000',
            font: TICK_FONT,
            callback: (_v, i) => yLabels[i] ?? '',
          },
          afterBuildTicks: (sc) => { sc.ticks = yVals.map((v) => ({ value: v })); },
          afterFit: (sc) => { sc.width = PAD_L; sc.paddingTop = 0; sc.paddingBottom = 0; },
        },
      },
    },
    plugins: [makeFramePlugin(col, row, xT, yVals)],
  };
}

// ---------------- component ----------------
const SERIF = '"Liberation Serif", "Times New Roman", serif';
const SANS = '"Liberation Sans", Arial, sans-serif';

function Abs({ x, y, rot = 0, size = 20, bold = false, family = SERIF, children }) {
  return (
    <div
      style={{
        position: 'absolute', left: x, top: y, transform: `translate(-50%, -50%) rotate(${rot}deg)`,
        fontSize: size, fontWeight: bold ? 'bold' : 'normal', fontFamily: family, whiteSpace: 'nowrap',
        lineHeight: 1, color: '#000',
      }}
    >
      {children}
    </div>
  );
}

function ColTitle({ name, x }) {
  const sub = { fontSize: '0.68em', verticalAlign: '-0.3em', lineHeight: 0 };
  return (
    <Abs x={x} y={61} size={20} bold>
      ({name})<span style={sub}>1</span>/(STO)<span style={sub}>1</span>(001)
    </Abs>
  );
}

function Legend({ labels, textRight, lineX, ys }) {
  return (
    <>
      {labels.map((lab, i) => {
        const y = ys[i];
        const cIn = SERIES_COLORS[2 * i];
        const cX = SERIES_COLORS[2 * i + 1];
        return (
          <React.Fragment key={lab}>
            <div style={{ position: 'absolute', left: textRight - 60, width: 60, top: y - 8, height: 16, textAlign: 'right', fontFamily: SANS, fontSize: 13, lineHeight: '16px', color: '#000' }}>{lab}</div>
            <div style={{ position: 'absolute', left: lineX, top: y - 4, width: 32, height: 2.5, background: cIn }} />
            <div style={{ position: 'absolute', left: lineX + 13, top: y - 6.5, width: 7, height: 7, borderRadius: 4, background: cIn }} />
            <div style={{ position: 'absolute', left: lineX, top: y + 3, width: 32, height: 2.5, background: cX }} />
          </React.Fragment>
        );
      })}
    </>
  );
}

export default function App() {
  const refs = useRef([]);
  useEffect(() => {
    const charts = PANELS.map((p, i) => new Chart(refs.current[i], buildConfig(p)));
    return () => charts.forEach((c) => c.destroy());
  }, []);

  const colCenters = COL_L.map((l, i) => (l + COL_R[i]) / 2);
  const rowCenters = ROW_T.map((t, i) => (t + ROW_B[i]) / 2);

  return (
    <div style={{ position: 'absolute', left: 0, top: 0, width: 1364, height: 842, background: '#fff', overflow: 'hidden' }}>
      <Abs x={360} y={21} size={26} bold>SLs with P4/mmm symmetry (untilted)</Abs>
      <Abs x={1035} y={21} size={26} bold>
        SLs with P2<span style={{ fontSize: '0.68em', verticalAlign: '-0.3em', lineHeight: 0 }}>1</span>/c symmetry (tilted)
      </Abs>
      <ColTitle name="SVO" x={174} />
      <ColTitle name="SCO" x={361} />
      <ColTitle name="SMO" x={555} />
      <ColTitle name="SVO" x={833} />
      <ColTitle name="SCO" x={1035} />
      <ColTitle name="SMO" x={1242} />

      {PANELS.map((p, i) => {
        const w = COL_R[p.col] - COL_L[p.col] + PAD_L + PAD_R;
        const h = ROW_B[p.row] - ROW_T[p.row] + PAD_T + PAD_B;
        return (
          <canvas
            key={i}
            ref={(el) => { refs.current[i] = el; }}
            width={w}
            height={h}
            style={{ position: 'absolute', left: COL_L[p.col] - PAD_L, top: ROW_T[p.row] - PAD_T, width: w, height: h }}
          />
        );
      })}

      <Abs x={27} y={rowCenters[0]} rot={-90} size={22}>S (μV/K)</Abs>
      <Abs x={27} y={rowCenters[1] + 10} rot={-90} size={22}>σ/τ (1/Ωcm fs)</Abs>
      <Abs x={27} y={rowCenters[2] + 4} rot={-90} size={22}>PF (μW/K<sup style={{ fontSize: '0.7em', lineHeight: 0 }}>2</sup>cm fs)</Abs>
      <Abs x={27} y={rowCenters[3] - 6} rot={-90} size={22}>ZT|el</Abs>
      {colCenters.map((cx, i) => (
        <Abs key={i} x={cx} y={828} size={22}>μ (eV)</Abs>
      ))}

      <Abs x={153} y={157} rot={-9} size={20}>cross-plane</Abs>
      <Abs x={131} y={200} size={20}>in-plane</Abs>
      <Abs x={497} y={316} rot={-90} size={19}>VBM</Abs>
      <Abs x={596} y={317} rot={-90} size={19}>CBM</Abs>
      <Abs x={775} y={317} rot={-90} size={19}>VBM</Abs>
      <Abs x={887} y={317} rot={-90} size={19}>CBM</Abs>
      <Abs x={971} y={318} rot={90} size={19}>in-plane</Abs>
      <Abs x={1089} y={368} rot={-60} size={20}>cross-plane</Abs>

      <Legend labels={LEGEND_U} textRight={613} lineX={616} ys={[99, 117, 134]} />
      <Legend labels={LEGEND_T} textRight={1077} lineX={1083} ys={[99, 116, 133]} />
    </div>
  );
}
